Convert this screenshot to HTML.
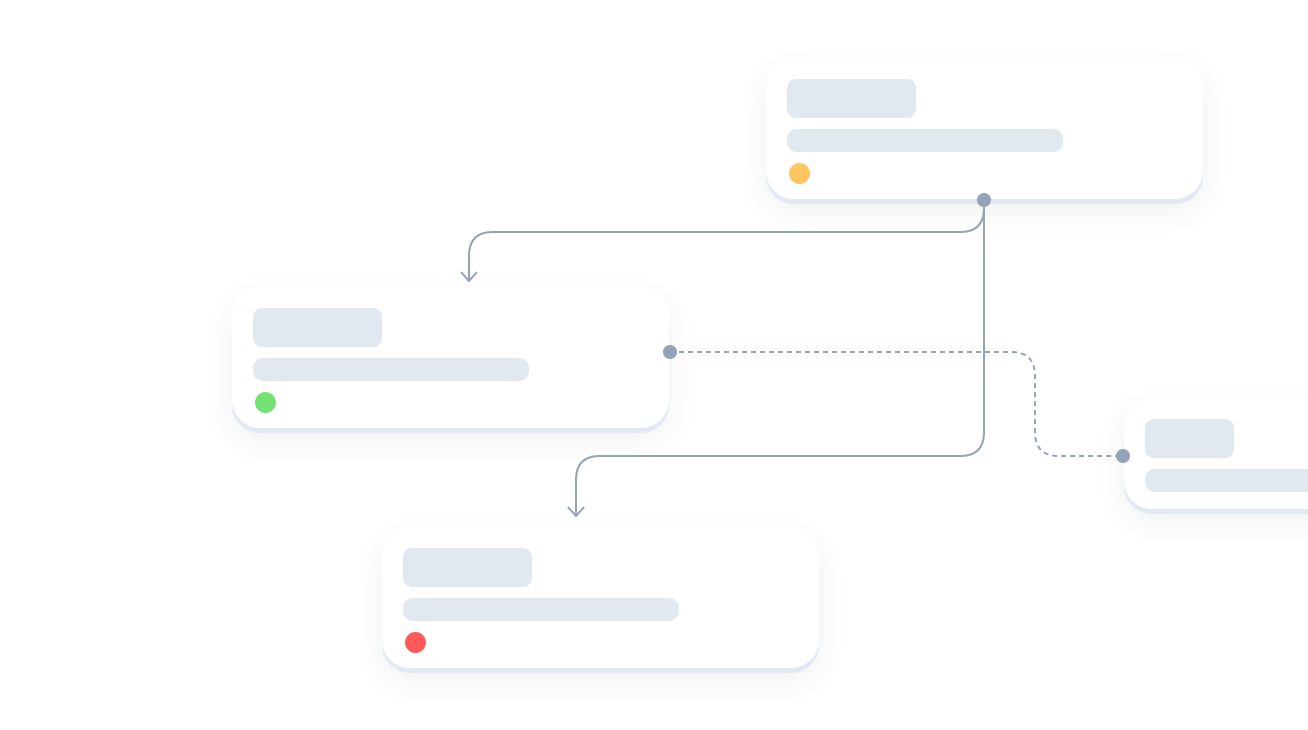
<!DOCTYPE html>
<html><head><style>
html,body{margin:0;padding:0;background:#fff;width:1308px;height:730px;overflow:hidden;position:relative}
.card{position:absolute;width:437px;height:141px;background:#fff;border-radius:28px;box-shadow:0 5px 0 #e2e8f4,0 12px 30px rgba(30,40,60,0.07)}
.t{position:absolute;left:21px;top:21px;width:129px;height:39px;border-radius:9px;background:#e2e8f0}
.l{position:absolute;left:21px;top:71px;width:276px;height:23px;border-radius:10px;background:#e2e8f0}
.d{position:absolute;left:23px;top:105px;width:21px;height:21px;border-radius:50%}
svg{position:absolute;left:0;top:0}
</style></head><body>
<div class="card" style="left:766px;top:58px"><div class="t"></div><div class="l"></div><div class="d" style="background:#fec45f"></div></div>
<div class="card" style="left:232px;top:287px"><div class="t"></div><div class="l"></div><div class="d" style="background:#74e173"></div></div>
<div class="card" style="left:382px;top:527px"><div class="t"></div><div class="l"></div><div class="d" style="background:#fc5a5a"></div></div>
<div class="card" style="left:1124px;top:398px;height:111px"><div class="t" style="width:89px"></div><div class="l" style="width:300px"></div></div>
<svg width="1308" height="730" viewBox="0 0 1308 730" fill="none" stroke="#94a3b8" stroke-width="2">
<path d="M984 200 V208 Q984 232 960 232 H493 Q469 232 469 256 V280"/>
<path d="M461 272 L469 281 L477 272"/>
<path d="M984 200 V432 Q984 456 960 456 H600 Q576 456 576 480 V515"/>
<path d="M568 507 L576 516 L584 507"/>
<path d="M670 352 H1011 Q1035 352 1035 376 V432 Q1035 456 1059 456 H1123" stroke-dasharray="5 4"/>
<g fill="#94a3b8" stroke="none">
<circle cx="984" cy="200" r="7"/>
<circle cx="670" cy="352" r="7"/>
<circle cx="1123" cy="456" r="7"/>
</g>
</svg>
</body></html>
